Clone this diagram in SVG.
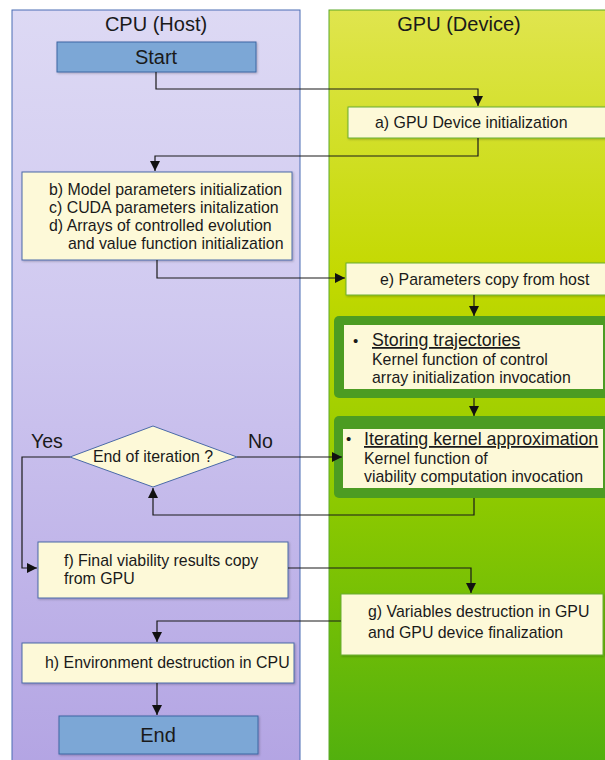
<svg xmlns="http://www.w3.org/2000/svg" width="605" height="760" viewBox="0 0 605 760">
<defs>
<linearGradient id="cpuG" x1="0" y1="0" x2="0" y2="1">
<stop offset="0" stop-color="#ddd9f4"/>
<stop offset="0.4" stop-color="#d0c9f0"/>
<stop offset="1" stop-color="#b3a4e3"/>
</linearGradient>
<linearGradient id="gpuG" x1="0" y1="0" x2="0" y2="1">
<stop offset="0" stop-color="#e0e54e"/>
<stop offset="0.35" stop-color="#c3d900"/>
<stop offset="0.65" stop-color="#8cc900"/>
<stop offset="1" stop-color="#50af0e"/>
</linearGradient>
<marker id="arr" viewBox="0 0 10 10" refX="10" refY="5" markerWidth="10" markerHeight="10" markerUnits="userSpaceOnUse" orient="auto">
<path d="M0,0 L10,5 L0,10 Z" fill="#111"/>
</marker>
<filter id="sh" x="-5%" y="-5%" width="110%" height="120%">
<feDropShadow dx="1" dy="1" stdDeviation="0.8" flood-color="#000" flood-opacity="0.25"/>
</filter>
</defs>
<style>
text{font-family:"Liberation Sans",Arial,sans-serif;fill:#1a1a1a}
.t{font-size:15.9px}
.h{font-size:20px}
.u{font-size:17.8px}
.yn{font-size:19.5px}
.cb{fill:#fdf9d8;stroke:#4a6aa8;stroke-width:1}
.gb{fill:#fdf9d8;stroke:#6aae30;stroke-width:1}
.term{fill:#7ba7d6;stroke:#3c67a3;stroke-width:1}
.frame{fill:#4c9c22}
.c{fill:none;stroke:#1a1a1a;stroke-width:1.2}
</style>
<g id="cpu-lane">
<rect x="12" y="10" width="288" height="760" fill="url(#cpuG)" stroke="#4a6cb4" stroke-width="1"/>
<text class="h" x="156" y="31" text-anchor="middle">CPU (Host)</text>
</g>
<g id="gpu-lane">
<rect x="329" y="10" width="290" height="760" fill="url(#gpuG)" stroke="#5aa82a" stroke-width="1"/>
<text class="h" x="459" y="31" text-anchor="middle">GPU (Device)</text>
</g>
<g id="start">
<rect class="term" x="57" y="42" width="199" height="30" filter="url(#sh)"/>
<text class="h" x="156" y="64" text-anchor="middle">Start</text>
</g>
<g id="a">
<rect class="gb" x="348" y="107" width="262" height="31" filter="url(#sh)"/>
<text class="t" x="375" y="128">a) GPU Device initialization</text>
</g>
<g id="bcd">
<rect class="cb" x="22" y="172" width="270" height="88" filter="url(#sh)"/>
<text class="t" x="49" y="195">b) Model parameters initialization</text>
<text class="t" x="49" y="213">c) CUDA parameters initalization</text>
<text class="t" x="49" y="231">d) Arrays of controlled evolution</text>
<text class="t" x="68" y="249">and value function initialization</text>
</g>
<g id="e">
<rect class="gb" x="346" y="263" width="264" height="32" filter="url(#sh)"/>
<text class="t" x="380" y="285">e) Parameters copy from host</text>
</g>
<g id="storing">
<rect class="frame" x="334" y="316" width="280" height="82" rx="5"/>
<rect x="344" y="325" width="259" height="64" fill="#fdf9d8"/>
<text x="353" y="346" style="font-size:15px">•</text>
<text class="u" x="372" y="346" text-decoration="underline">Storing trajectories</text>
<text class="t" x="372" y="365">Kernel function of control</text>
<text class="t" x="372" y="383">array initialization invocation</text>
</g>
<g id="iterating">
<rect class="frame" x="334" y="416" width="280" height="82" rx="5"/>
<rect x="343" y="429" width="260" height="59" fill="#fdf9d8"/>
<text x="346" y="444" style="font-size:15px">•</text>
<text class="u" x="364" y="445" text-decoration="underline">Iterating kernel approximation</text>
<text class="t" x="364" y="464">Kernel function of</text>
<text class="t" x="364" y="482">viability computation invocation</text>
</g>
<g id="decision">
<polygon points="70,457 153,426 237,457 153,487" fill="#fdf9d8" stroke="#4a6aa8" stroke-width="1"/>
<text class="t" x="153" y="462" text-anchor="middle">End of iteration ?</text>
</g>
<g id="labels">
<text class="yn" x="31" y="448">Yes</text>
<text class="yn" x="248" y="448">No</text>
</g>
<g id="f">
<rect class="cb" x="38" y="542" width="250" height="56" filter="url(#sh)"/>
<text class="t" x="64" y="566">f) Final viability results copy</text>
<text class="t" x="64" y="584">from GPU</text>
</g>
<g id="g">
<rect class="gb" x="341" y="594" width="262" height="61" filter="url(#sh)"/>
<text class="t" x="368" y="617">g) Variables destruction in GPU</text>
<text class="t" x="368" y="638">and GPU device finalization</text>
</g>
<g id="h">
<rect class="cb" x="22" y="643" width="272" height="40" filter="url(#sh)"/>
<text class="t" x="45" y="668">h) Environment destruction in CPU</text>
</g>
<g id="end">
<rect class="term" x="59" y="716" width="199" height="38" filter="url(#sh)"/>
<text class="h" x="158" y="742" text-anchor="middle">End</text>
</g>
<g id="connectors">
<path class="c" d="M156,72 V89 H478 V106" marker-end="url(#arr)"/>
<path class="c" d="M478,138 V156 H155 V171" marker-end="url(#arr)"/>
<path class="c" d="M157,260 V278 H345" marker-end="url(#arr)"/>
<path class="c" d="M474,295 V316" marker-end="url(#arr)"/>
<path class="c" d="M474,398 V416" marker-end="url(#arr)"/>
<path class="c" d="M474,498 V515 H153 V488" marker-end="url(#arr)"/>
<path class="c" d="M237,457 H342" marker-end="url(#arr)"/>
<path class="c" d="M70,457 H22 V568 H37" marker-end="url(#arr)"/>
<path class="c" d="M288,568 H471 V593" marker-end="url(#arr)"/>
<path class="c" d="M341,621 H157 V642" marker-end="url(#arr)"/>
<path class="c" d="M157,683 V715" marker-end="url(#arr)"/>
</g>
</svg>
